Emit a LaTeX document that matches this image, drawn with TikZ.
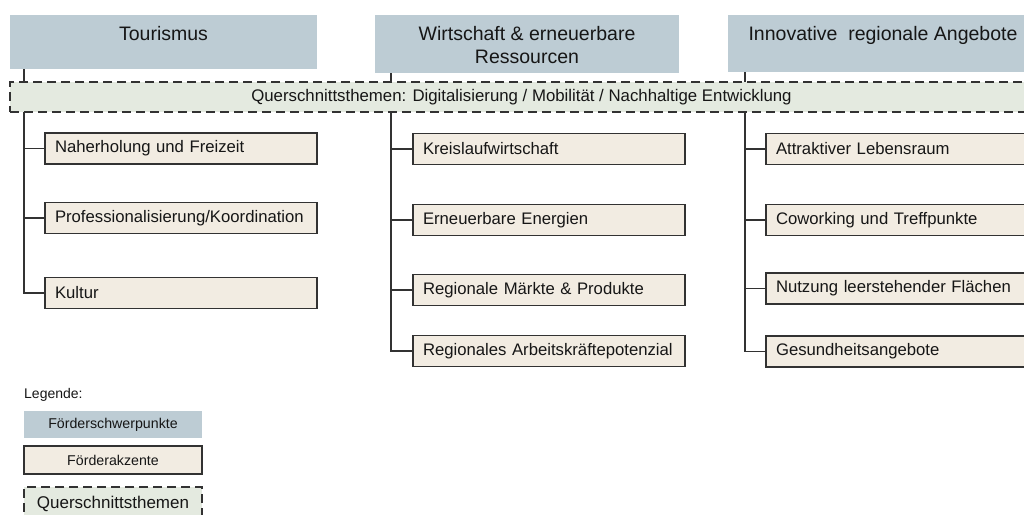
\documentclass[tikz,border=0pt]{standalone}
\usepackage{fontspec}
\setmainfont{Liberation Sans}
\usetikzlibrary{positioning}
\definecolor{headblue}{RGB}{189,204,212}
\definecolor{boxbeige}{RGB}{242,236,226}
\definecolor{bandgreen}{RGB}{228,234,224}
\definecolor{linegray}{RGB}{50,50,50}
\definecolor{textgray}{RGB}{22,22,22}
\begin{document}
\begin{tikzpicture}
[x=1pt,y=-1pt,
 headdecorate/.style={shape=rectangle,fill=headblue,inner sep=0pt},%
 headtext/.style={inner sep=0pt,align=center,text=textgray,font=\fontsize{19.5}{23}\selectfont},%
 boxdecorate/.style={shape=rectangle,draw=linegray,line width=1.5pt,fill=boxbeige,
   minimum width=272pt,minimum height=31pt,text width=252pt,inner xsep=10pt,
   align=left,text=textgray,font=\fontsize{16.7}{20}\selectfont},%
 banddecorate/.style={shape=rectangle,draw=linegray,line width=1.5pt,
   dash pattern=on 9pt off 5pt,fill=bandgreen,text=textgray,font=\fontsize{16.8}{20}\selectfont},%
 linedecorate/.style={-,draw=linegray,line width=1.8pt}]
\path[use as bounding box,clip] (0,0) rectangle (1024,514);
%%% Foerderschwerpunkte
% header boxes
\node (tour) at (163.5,42) [headdecorate,minimum width=307pt,minimum height=54pt] {};
\node (wirt) at (527,44) [headdecorate,minimum width=304pt,minimum height=58pt] {};
\node (inno) at (883,43.5) [headdecorate,minimum width=310pt,minimum height=57pt] {};
% header texts
\node (tourtxt) [headtext,below=11pt of tour.north] {Tourismus};
\node (wirttxt) [headtext,below=11pt of wirt.north] {Wirtschaft \& erneuerbare\\Ressourcen};
\node (innotxt) [headtext,below=11pt of inno.north] {Innovative\ \ regionale Angebote};
%
%%% Foerderakzente
% column Tourismus
\node (nah) at (181,148.5) [boxdecorate] {Naherholung und Freizeit};
\node (pro) at (181,218) [boxdecorate] {Professionalisierung/Koordination};
\node (kul) at (181,293) [boxdecorate] {Kultur};
% column Wirtschaft
\node (krl) at (549,149) [boxdecorate] {Kreislaufwirtschaft};
\node (ene) at (549,220) [boxdecorate] {Erneuerbare Energien};
\node (mar) at (549,290) [boxdecorate] {Regionale Märkte \& Produkte};
\node (arb) at (549,351) [boxdecorate] {Regionales Arbeitskräftepotenzial};
% column Innovative Angebote
\node (leb) at (902,149) [boxdecorate] {Attraktiver Lebensraum};
\node (cow) at (902,220) [boxdecorate] {Coworking und Treffpunkte};
\node (nut) at (902,288.5) [boxdecorate] {Nutzung leerstehender Flächen};
\node (ges) at (902,351.5) [boxdecorate] {Gesundheitsangebote};
%
% stems and branches
\coordinate (ts) at (24,69);
\coordinate (ws) at (391,73);
\coordinate (is) at (745,72);
\draw[linedecorate] (ts) |- (kul);
\draw[linedecorate] (ws) |- (arb);
\draw[linedecorate] (is) |- (ges);
\path
(ts |- nah) edge[linedecorate] (nah)
(ts |- pro) edge[linedecorate] (pro)
(ws |- krl) edge[linedecorate] (krl)
(ws |- ene) edge[linedecorate] (ene)
(ws |- mar) edge[linedecorate] (mar)
(is |- leb) edge[linedecorate] (leb)
(is |- cow) edge[linedecorate] (cow)
(is |- nut) edge[linedecorate] (nut);
%
%%% Querschnittsthemen
\node (quer) at (521.5,97) [banddecorate,minimum width=1023pt,minimum height=30pt]
  {Querschnittsthemen: Digitalisierung / Mobilität / Nachhaltige Entwicklung};
%
%%% Legende
\node (leg) at (24,395) [anchor=west,inner sep=0pt,text=textgray,font=\fontsize{14}{16}\selectfont] {Legende:};
\node (lfs) at (113,424.5) [headdecorate,minimum width=178pt,minimum height=27pt,
  text=textgray,font=\fontsize{14.2}{16}\selectfont] {Förderschwerpunkte};
\node (lfa) at (113,460) [boxdecorate,minimum width=178pt,minimum height=28pt,
  text width=158pt,align=center,font=\fontsize{14.2}{16}\selectfont] {Förderakzente};
\node (lqu) at (113,504) [banddecorate,minimum width=178pt,minimum height=34pt,
  font=\fontsize{17}{20}\selectfont] {Querschnittsthemen};
\end{tikzpicture}
\end{document}
